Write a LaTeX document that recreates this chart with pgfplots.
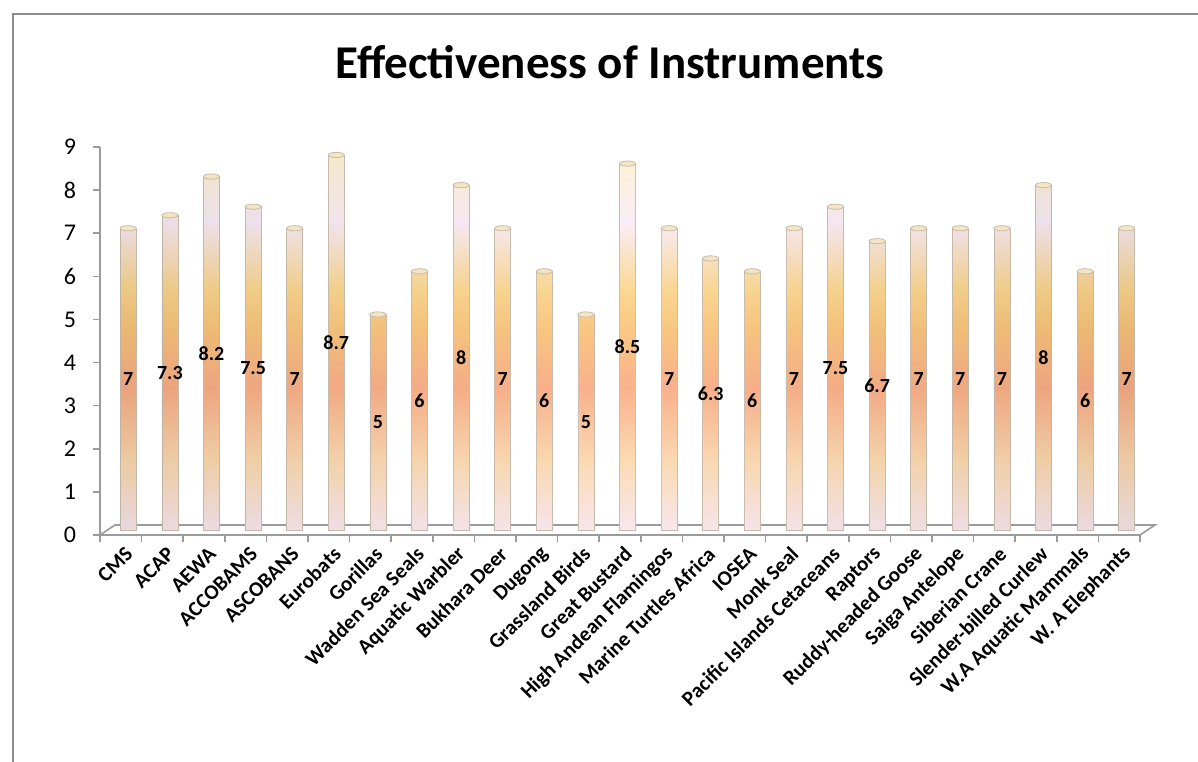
\documentclass[border=0pt]{standalone}
\usepackage{fontspec}
\setmainfont{Carlito}
\usepackage{pgfplots}
\pgfplotsset{compat=1.18}
\usepackage{pgfplotstable}
\usetikzlibrary{calc}

\definecolor{axisgray}{RGB}{155,155,155}
\definecolor{framegray}{RGB}{140,140,140}
\definecolor{capcol}{RGB}{242,230,195}
\definecolor{edgecol}{RGB}{200,186,170}
\definecolor{cA}{RGB}{248,228,236}
\definecolor{cB}{RGB}{252,214,168}
\definecolor{cC}{RGB}{250,166,122}
\definecolor{cD}{RGB}{250,192,110}
\definecolor{cE}{RGB}{251,210,130}
\definecolor{cF}{RGB}{250,234,246}
\definecolor{cG}{RGB}{253,242,205}

% the middle 50bp of the shading is fitted to each bar
\pgfdeclareverticalshading{cylfill}{100bp}{color(0bp)=(cA); color(25bp)=(cA);
  color(34bp)=(cB); color(44bp)=(cC); color(52bp)=(cD); color(57bp)=(cE);
  color(66bp)=(cF); color(75bp)=(cG); color(100bp)=(cG)}

\pgfdeclareplotmark{cap}{%
  \pgfpathellipse{\pgfpointorigin}{\pgfqpoint{4pt}{0pt}}{\pgfqpoint{0pt}{1.3pt}}%
  \pgfusepathqfillstroke}

\pgfplotstableread{
x y
0 7
1 7.3
2 8.2
3 7.5
4 7
5 8.7
6 5
7 6
8 8
9 7
10 6
11 5
12 8.5
13 7
14 6.3
15 6
16 7
17 7.5
18 6.7
19 7
20 7
21 7
22 8
23 6
24 7
}\effect

\begin{document}
\begin{tikzpicture}
\useasboundingbox (0,0) rectangle (599pt,380.5pt);
\draw[framegray, line width=1pt] (6.5pt,-10pt) |- (620pt,373.5pt);
\node[anchor=base, font=\bfseries\fontsize{23.5}{28}\selectfont] at (305pt,341pt) {Effectiveness of Instruments};

\begin{axis}[
  at={(50pt,113pt)}, anchor=south west,
  scale only axis, width=520pt, height=194pt,
  xmin=-0.5, xmax=24.5, ymin=0, ymax=9,
  axis x line*=bottom, axis y line*=left,
  axis line style={axisgray, line width=0.8pt},
  xtick={0,...,24},
  xticklabels={CMS,ACAP,AEWA,ACCOBAMS,ASCOBANS,Eurobats,Gorillas,Wadden Sea Seals,Aquatic Warbler,Bukhara Deer,Dugong,Grassland Birds,Great Bustard,High Andean Flamingos,Marine Turtles Africa,IOSEA,Monk Seal,Pacific Islands Cetaceans,Raptors,Ruddy-headed Goose,Saiga Antelope,Siberian Crane,Slender-billed Curlew,W.A Aquatic Mammals,W. A Elephants},
  minor xtick={-0.5,0.5,...,24.5},
  ytick={0,...,9},
  tick align=outside,
  major tick length=3.5pt, minor tick length=3.5pt,
  major x tick style={draw=none},
  minor x tick style={axisgray, line width=0.8pt},
  ytick style={axisgray, line width=0.8pt},
  xticklabel style={rotate=45, anchor=east, font=\bfseries\fontsize{10.5}{12}\selectfont, inner sep=1pt, yshift=-6pt, xshift=1pt},
  yticklabel style={font=\fontsize{12}{14}\selectfont, xshift=-5pt},
  /pgf/number format/assume math mode=true,
  clip=false,
]
% 3D floor
\draw[axisgray, line width=0.8pt] (axis cs:-0.5,0) -- ++(7.5pt,5pt) -- ($(axis cs:24.5,0)+(7.5pt,5pt)$) -- (axis cs:24.5,0);
% bars
\addplot[ybar, bar width=8pt, bar shift=0pt, xshift=3.75pt, yshift=2.5pt,
  shade, shading=cylfill, draw=edgecol, line width=0.4pt] table[x=x,y=y]{\effect};
% cylinder side shading
\addplot[ybar, bar width=8pt, bar shift=0pt, xshift=3.75pt, yshift=2.5pt,
  draw=none, left color=black!45, right color=black!45, middle color=white, fill opacity=0.14,
  visualization depends on=y \as \rawy,
  nodes near coords,
  nodes near coords style={/pgf/number format/assume math mode=true},
  every node near coord/.append style={anchor=center, fill opacity=1, text opacity=1,
    font=\bfseries\fontsize{10}{12}\selectfont, shift={(axis direction cs:0,-\rawy/2)}},
] table[x=x,y=y]{\effect};
% tops of the cylinders
\addplot[only marks, mark=cap, xshift=3.75pt, yshift=2.5pt,
  mark options={fill=capcol, draw=edgecol, line width=0.4pt}] table[x=x,y=y]{\effect};
\end{axis}
\end{tikzpicture}
\end{document}
